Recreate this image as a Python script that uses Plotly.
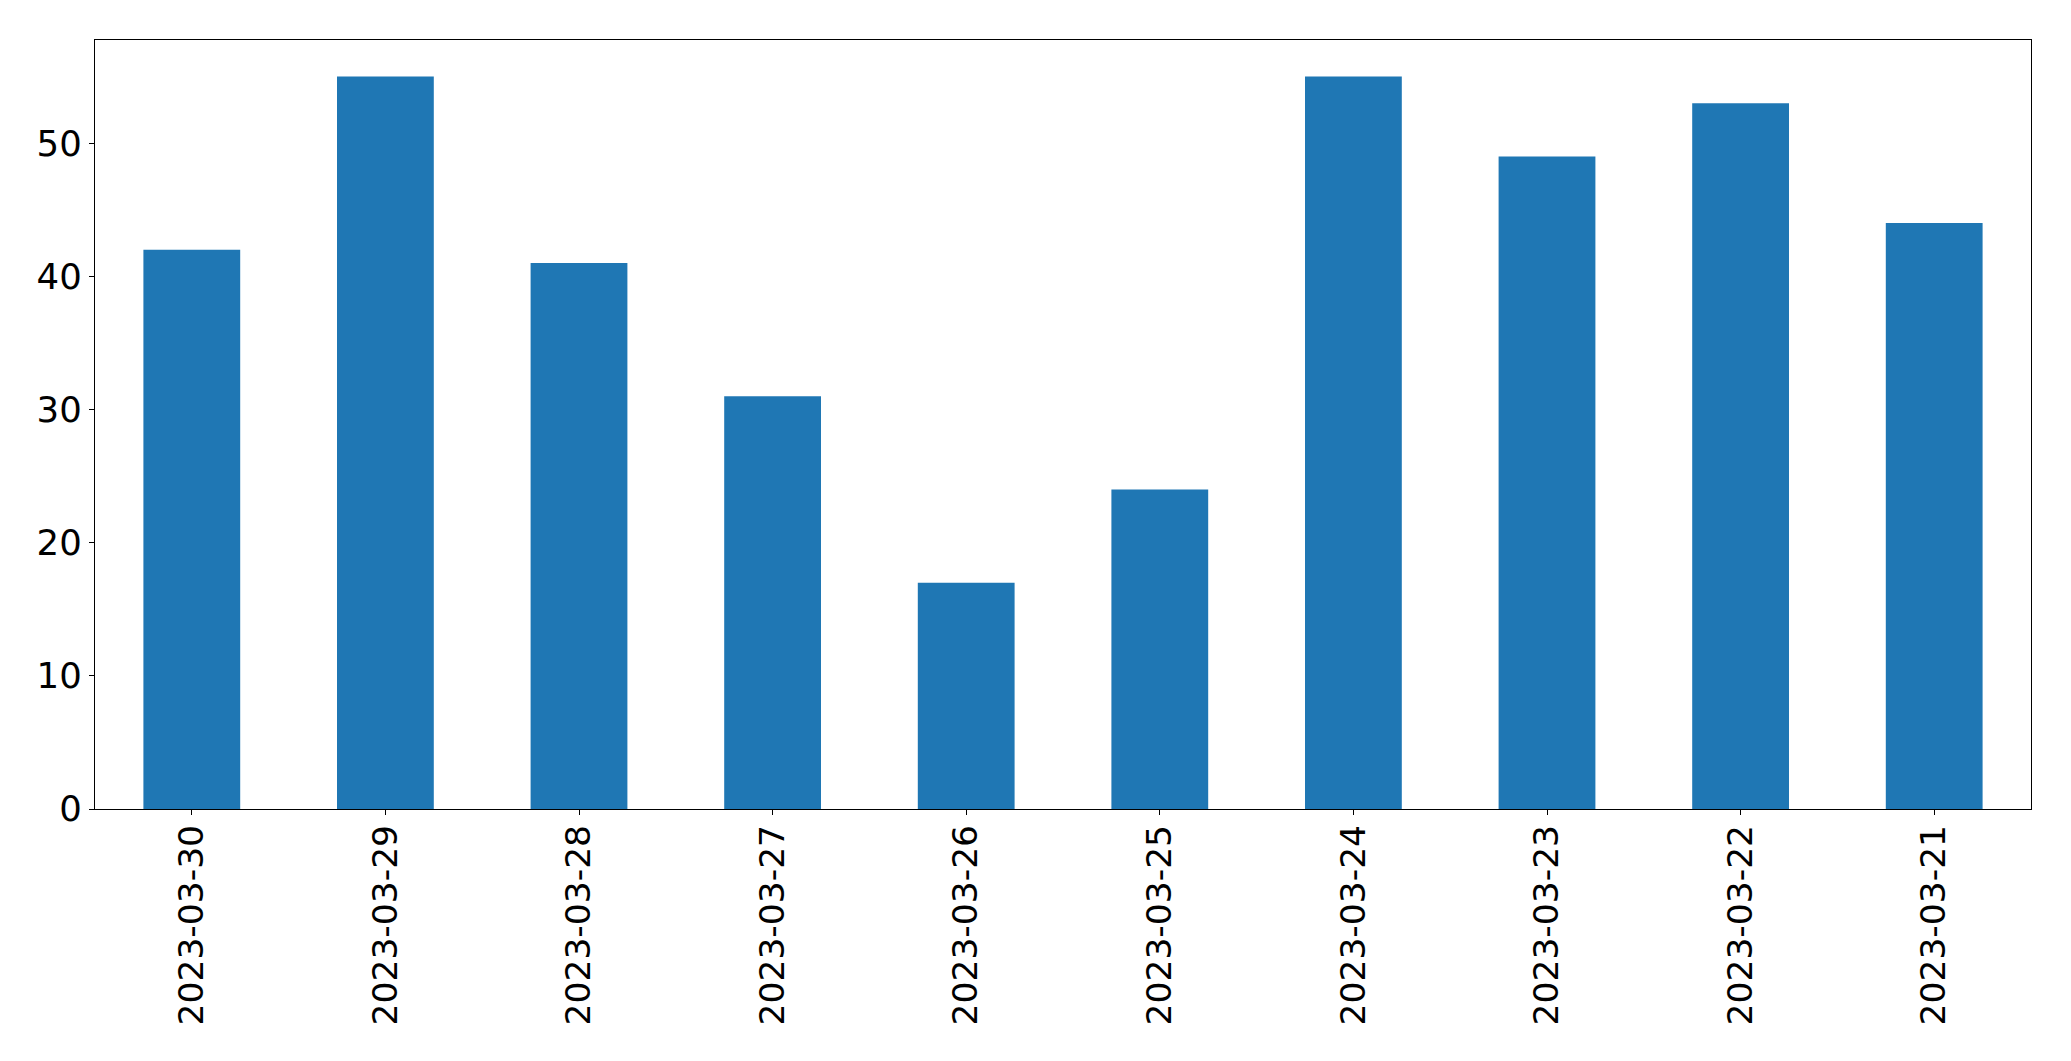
import plotly.graph_objects as go

dates = ["2023-03-30", "2023-03-29", "2023-03-28", "2023-03-27", "2023-03-26",
         "2023-03-25", "2023-03-24", "2023-03-23", "2023-03-22", "2023-03-21"]
counts = [42, 55, 41, 31, 17, 24, 55, 49, 53, 44]

fig = go.Figure(go.Bar(x=dates, y=counts, marker=dict(color="#1f77b4", line=dict(width=0)), width=0.5))

W, H = 2071, 1061
fig.update_layout(
    width=W, height=H,
    margin=dict(l=94.5, r=39.5, t=39.5, b=252, pad=0),
    paper_bgcolor="white", plot_bgcolor="white",
    font=dict(family="DejaVu Sans", size=35, color="black"),
    showlegend=False,
)
fig.update_xaxes(
    type="category", range=[-0.5, 9.5],
    showline=True, mirror=True, linecolor="black", linewidth=1.3,
    ticks="outside", ticklen=5, tickwidth=1.3, tickcolor="black",
    tickangle=-90, showgrid=False, zeroline=False, ticklabelstandoff=-4,
    tickfont=dict(family="DejaVu Sans", size=34.5, color="black"),
)
fig.update_yaxes(
    range=[0, 57.75], tickvals=[0, 10, 20, 30, 40, 50],
    showline=True, mirror=True, linecolor="black", linewidth=1.3,
    ticks="outside", ticklen=5, tickwidth=1.3, tickcolor="black",
    showgrid=False, zeroline=False,
    tickfont=dict(family="DejaVu Sans", size=35.5, color="black"),
)
fig.write_html("out.html")
